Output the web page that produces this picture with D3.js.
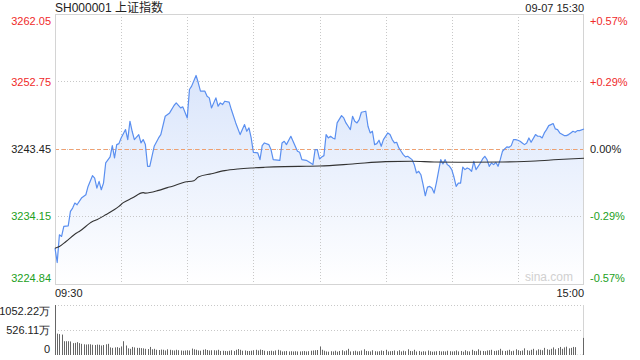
<!DOCTYPE html>
<html><head><meta charset="utf-8">
<script src="https://cdn.jsdelivr.net/npm/d3@7"></script>
<style>
html,body{margin:0;padding:0;background:#fff;}
svg{display:block;font-family:"Liberation Sans","Noto Sans CJK SC",Arial,sans-serif;}
</style></head>
<body><svg id="c" width="640" height="360"></svg>
<script>
const title = "SH000001 上证指数";
const stamp = "09-07 15:30";
const prevClose = 3243.45;
const priceTicks = [3224.84, 3234.15, 3243.45, 3252.75, 3262.05];
const pctLabels = ["-0.57%", "-0.29%", "0.00%", "+0.29%", "+0.57%"];
const timeLabels = ["09:30", "15:00"];
const volTicks = [0, 526.11, 1052.22];
const volLabels = ["0", "526.11万", "1052.22万"];

const priceMinute = [0,1,2,3,4,6,7,8,9,10,12,14,15,17,18,19,20,21,22,23,25,26,27,28,29,30,32,33,34,35,36,38,39,40,41,42,43,45,47,48,50,52,54,55,57,58,60,61,62,64,65,66,68,69,70,71,73,74,75,76,77,79,80,82,84,86,87,88,89,90,92,93,94,95,97,98,99,102,103,104,105,107,108,110,111,112,114,116,117,118,119,120,
121,122,123,124,125,126,127,128,130,131,132,133,134,135,136,137,138,139,141,142,143,144,145,146,147,148,149,151,152,153,154,155,156,157,158,159,160,162,163,164,165,166,167,168,169,170,171,172,173,174,175,176,177,178,179,180,181,182,183,184,185,186,187,188,189,190,191,192,193,194,195,196,197,198,199,200,201,202,203,204,205,206,207,208,209,210,211,212,213,214,215,216,218,219,220,221,222,223,224,225,226,227,228,229,231,232,233,234,235,236,237,238,240];
const priceValue = [3229.78,3227.80,3231.62,3231.39,3232.77,3232.86,3234.84,3235.30,3235.99,3235.76,3236.68,3237.14,3238.29,3239.77,3239.44,3238.06,3238.98,3237.83,3238.75,3241.52,3242.35,3243.91,3242.21,3244.05,3244.19,3244.97,3246.12,3244.74,3247.27,3245.89,3244.74,3245.43,3244.28,3244.74,3244.05,3241.06,3241.06,3243.82,3244.97,3245.43,3247.96,3248.42,3249.44,3249.80,3249.11,3249.25,3247.73,3251.65,3252.11,3253.58,3252.57,3251.41,3251.41,3250.72,3250.49,3249.11,3250.49,3249.34,3249.80,3249.57,3250.03,3249.90,3248.88,3247.04,3245.43,3246.81,3245.89,3246.35,3244.97,3242.99,3242.90,3241.98,3243.91,3244.28,3244.05,3243.36,3241.98,3241.88,3244.28,3244.51,3244.05,3245.20,3244.51,3243.13,3242.99,3241.98,3241.88,3241.52,3241.29,3243.36,3243.36,3242.07,
3242.35,3242.53,3245.43,3244.97,3245.20,3244.97,3244.83,3247.04,3248.05,3247.73,3247.04,3246.58,3246.12,3247.96,3247.27,3247.04,3247.50,3248.51,3248.65,3246.58,3245.66,3245.89,3244.05,3244.19,3244.65,3243.82,3244.74,3245.66,3245.43,3244.74,3244.28,3244.37,3243.59,3243.13,3242.67,3242.35,3242.44,3241.98,3241.29,3240.14,3240.37,3239.90,3238.52,3237.00,3238.20,3238.29,3238.06,3237.37,3238.75,3240.37,3241.98,3241.38,3241.98,3241.29,3241.06,3240.60,3239.58,3238.29,3238.75,3238.75,3240.96,3240.60,3240.83,3240.69,3240.37,3241.75,3240.60,3241.06,3241.52,3242.07,3242.44,3241.98,3241.06,3241.52,3241.29,3241.61,3241.06,3241.98,3243.13,3243.45,3243.73,3243.68,3243.91,3244.74,3244.74,3244.65,3244.51,3244.28,3244.05,3244.28,3244.97,3244.37,3245.43,3245.20,3245.20,3244.97,3245.66,3246.12,3246.67,3246.81,3246.95,3246.21,3246.12,3245.66,3245.29,3245.29,3245.43,3245.66,3245.89,3245.75,3245.98,3245.98,3246.21];

const avgMinute = [0,2,5,10,11,17,19,23,29,31,35,40,41,47,51,53,59,63,65,71,77,83,89,95,104,114,120,135,150,162,172,187,202,218,225,233,240];
const avgValue = [3229.78,3230.01,3230.70,3231.91,3232.08,3233.46,3233.71,3234.38,3235.53,3236.05,3236.68,3237.43,3237.37,3237.74,3238.12,3238.29,3238.89,3239.08,3239.58,3240.04,3240.46,3240.69,3240.83,3240.92,3241.01,3241.06,3241.10,3241.38,3241.70,3241.75,3241.65,3241.61,3241.65,3241.79,3241.93,3242.07,3242.16];

const volume = [1052,450,440,430,290,290,290,285,250,255,270,250,235,225,220,225,225,215,210,220,215,200,210,225,235,160,150,160,165,150,180,290,200,140,130,170,160,150,150,145,140,130,125,170,120,130,110,105,115,110,95,120,110,100,95,110,100,95,90,95,100,95,135,120,110,95,90,110,120,105,95,100,100,95,110,85,90,85,80,90,100,85,110,125,110,90,95,85,85,90,100,110,95,115,105,90,80,85,90,80,95,110,95,75,80,85,75,80,75,80,75,75,80,85,75,80,90,95,100,105,180,
110,90,75,70,80,75,90,70,85,100,
80,95,130,75,80,90,75,80,95,120,
85,80,75,100,80,75,80,95,85,110,
75,80,85,95,80,100,75,90,80,120,
85,80,110,75,85,70,80,75,95,80,
70,75,80,85,75,80,75,90,80,75,
80,95,75,85,70,100,80,75,110,85,
80,120,90,85,80,95,100,110,85,90,
100,130,90,85,95,110,80,90,120,100,
85,95,140,100,90,110,130,95,120,110,
100,150,120,110,130,160,120,145,170,130,
160,175,140,150,170,165,4,4,4,360];

const W = 640, H = 360;
const L = 55, R = 584, T = 14, B = 284;
const VT = 305, VB = 355;
const red = "#f02a2a", green = "#22a022", grid = "#c8c8c8";

const svg = d3.select("#c");
const x = d3.scaleLinear().domain([0, 240]).range([L, R]);
const y = d3.scaleLinear().domain([priceTicks[0], priceTicks[4]]).range([B, T]);
const yv = d3.scaleLinear().domain([0, volTicks[2]]).range([VB, VT]);

// gradient
const defs = svg.append("defs");
const g1 = defs.append("linearGradient").attr("id","fillg").attr("gradientUnits","userSpaceOnUse")
  .attr("x1",0).attr("x2",0).attr("y1",T+50).attr("y2",B);
g1.append("stop").attr("offset","0").attr("stop-color","#d8e4fb");
g1.append("stop").attr("offset","1").attr("stop-color","#ffffff");

const pts = priceMinute.map((m,i)=>[m, priceValue[i]]);
svg.append("path").datum(pts)
  .attr("d", d3.area().x(d=>x(d[0])).y0(B).y1(d=>y(d[1])))
  .attr("fill","url(#fillg)");

// grids
const vGrid = [30,60,90,120,150,180,210];
svg.append("g").selectAll("line").data(vGrid).join("line")
  .attr("x1", d=>Math.round(x(d))+0.5).attr("x2", d=>Math.round(x(d))+0.5)
  .attr("y1", T).attr("y2", B)
  .attr("stroke", grid).attr("stroke-dasharray","1,2");
svg.append("g").selectAll("line").data([priceTicks[1], priceTicks[2], priceTicks[3]]).join("line")
  .attr("x1", L).attr("x2", R)
  .attr("y1", d=>Math.round(y(d))+0.5).attr("y2", d=>Math.round(y(d))+0.5)
  .attr("stroke", grid).attr("stroke-dasharray","1,2");
svg.append("line").attr("x1",L).attr("x2",R)
  .attr("y1",Math.round(y(prevClose))+0.5).attr("y2",Math.round(y(prevClose))+0.5)
  .attr("stroke","#f0a070").attr("stroke-dasharray","4,3");

// frame
svg.append("rect").attr("x",L+0.5).attr("y",T+0.5).attr("width",R-L-1).attr("height",B-T)
  .attr("fill","none").attr("stroke","#d4d4d4");

// price line
svg.append("path").datum(pts)
  .attr("d", d3.line().x(d=>x(d[0])).y(d=>y(d[1])))
  .attr("fill","none").attr("stroke","#5a8ff0").attr("stroke-width",1.2).attr("stroke-linejoin","round");
// avg line
svg.append("path").datum(avgMinute.map((m,i)=>[m, avgValue[i]]))
  .attr("d", d3.line().x(d=>x(d[0])).y(d=>y(d[1])).curve(d3.curveMonotoneX))
  .attr("fill","none").attr("stroke","#333").attr("stroke-width",1.1);

// watermark
svg.append("text").attr("x",573).attr("y",281).attr("text-anchor","end")
  .attr("font-size",12).attr("fill","#d0d0d0").text("sina.com");

// left axis labels
const colorFor = v => v > prevClose ? red : (v < prevClose ? green : "#222");
const leftAxis = d3.axisLeft(y).tickValues(priceTicks).tickSize(0).tickPadding(4).tickFormat(d3.format(".2f"));
const la = svg.append("g").attr("transform",`translate(${L},0)`).call(leftAxis);
la.select(".domain").remove();
la.selectAll("text").attr("font-size",11).attr("font-family",null)
  .attr("fill", d=>colorFor(d))
  .attr("dy", (d,i)=> i===0 ? "-0.25em" : (i===4 ? "0.95em" : "0.32em"));
const rightAxis = d3.axisRight(y).tickValues(priceTicks).tickSize(0).tickPadding(6).tickFormat((d,i)=>pctLabels[i]);
const ra = svg.append("g").attr("transform",`translate(${R},0)`).call(rightAxis);
ra.select(".domain").remove();
ra.selectAll("text").attr("font-size",11).attr("font-family",null)
  .attr("fill", d=>colorFor(d))
  .attr("dy", (d,i)=> i===0 ? "-0.25em" : (i===4 ? "0.95em" : "0.32em"));

// time labels
svg.append("text").attr("x",L).attr("y",297).attr("font-size",11).attr("fill","#222").text(timeLabels[0]);
svg.append("text").attr("x",R).attr("y",297).attr("font-size",11).attr("fill","#222").attr("text-anchor","end").text(timeLabels[1]);

// title
svg.append("text").attr("x",L).attr("y",12).attr("font-size",12).attr("fill","#222").text(title);
svg.append("text").attr("x",R).attr("y",12).attr("font-size",11).attr("fill","#222").attr("text-anchor","end").text(stamp);

// volume grid
svg.append("g").selectAll("line").data([volTicks[1], volTicks[2]]).join("line")
  .attr("x1",L).attr("x2",R).attr("y1",d=>Math.round(yv(d))+0.5).attr("y2",d=>Math.round(yv(d))+0.5)
  .attr("stroke",grid).attr("stroke-dasharray","1,2");
svg.append("line").attr("x1",R-0.5).attr("x2",R-0.5).attr("y1",VT).attr("y2",VB).attr("stroke","#d4d4d4");
// volume bars
svg.append("g").selectAll("rect").data(volume).join("rect")
  .attr("x",(d,i)=>Math.round(x(i))-(i===240?1:0)).attr("width",1)
  .attr("y",d=>yv(d)).attr("height",d=>VB-yv(d)).attr("fill","#666");
// volume labels
const va = svg.append("g").attr("transform",`translate(${L},0)`)
  .call(d3.axisLeft(yv).tickValues(volTicks).tickSize(0).tickPadding(5).tickFormat((d,i)=>volLabels[i]));
va.select(".domain").remove();
va.selectAll("text").attr("font-size",11).attr("font-family",null).attr("fill","#222")
  .attr("dy",(d,i)=> i===0 ? "-0.2em" : (i===2 ? "0.85em" : "0.32em"));
</script></body></html>
